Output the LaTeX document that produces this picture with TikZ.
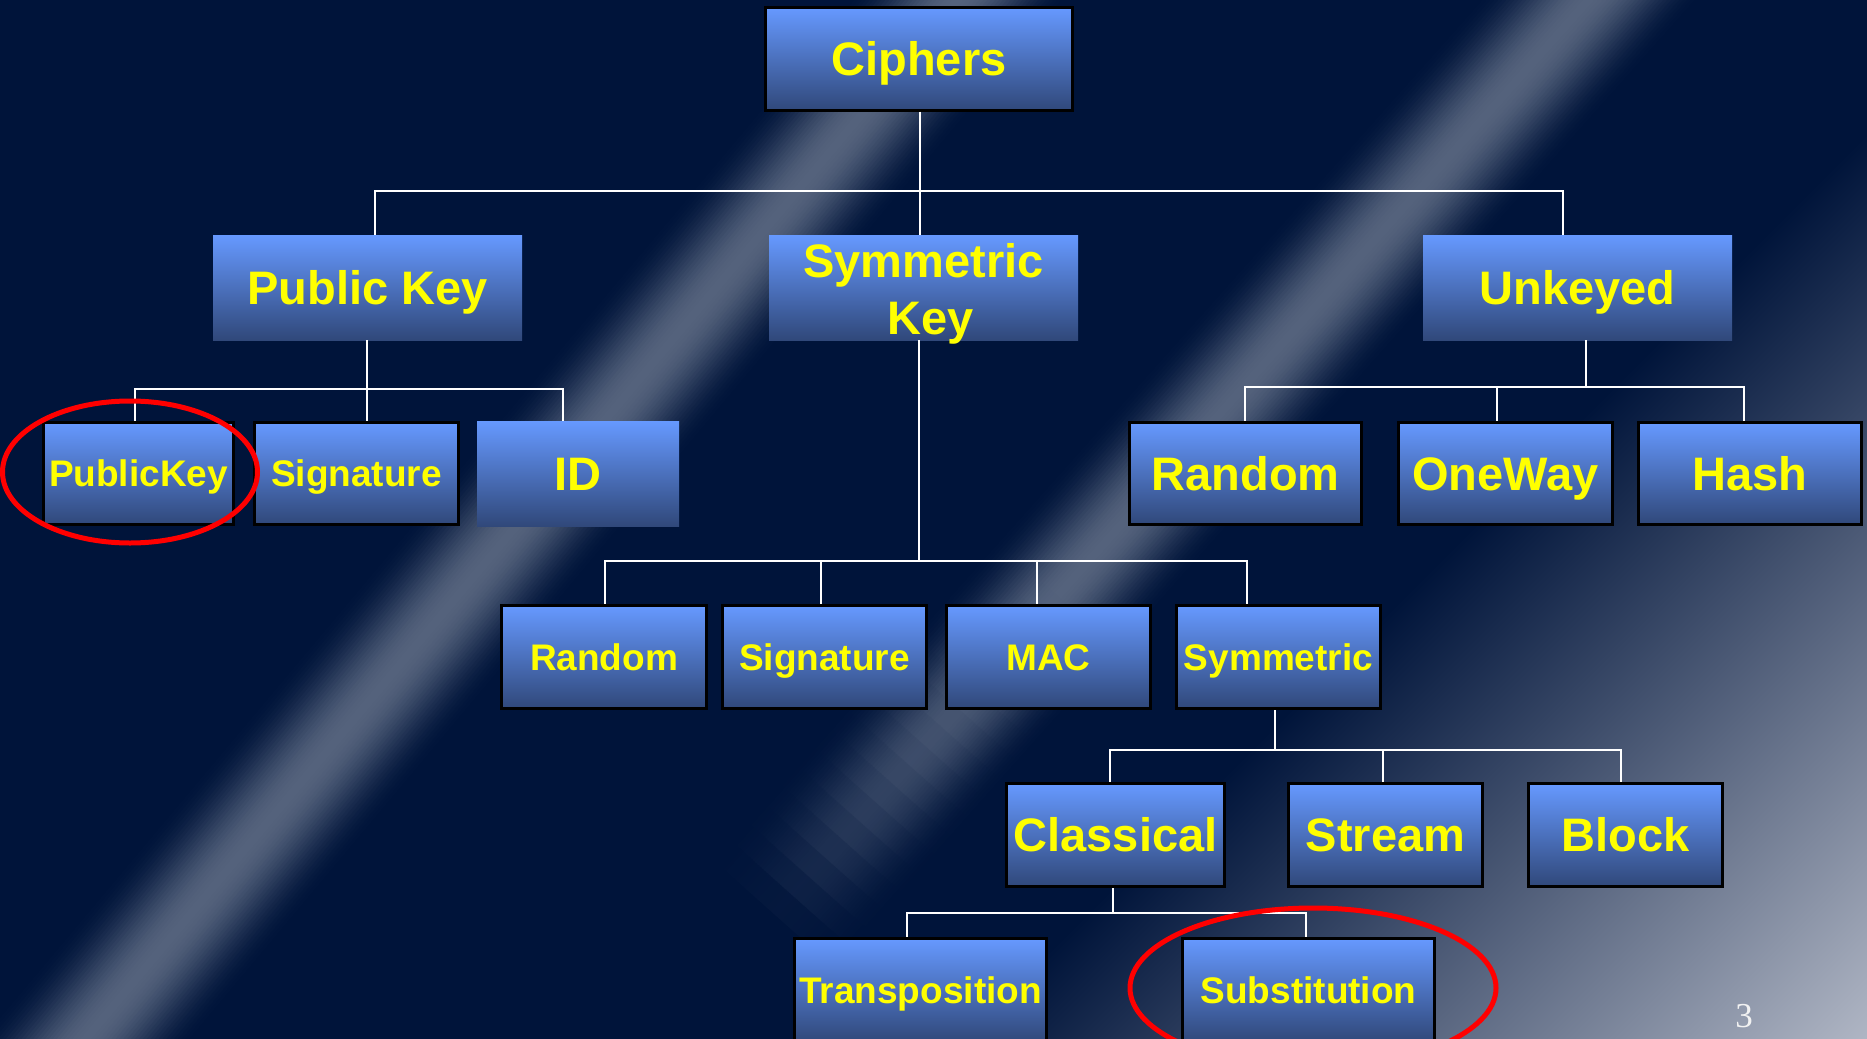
\documentclass[tikz,border=0pt]{standalone}
\usepackage{fontspec}
\setmainfont{Liberation Sans}
\newfontfamily\numfont{Liberation Serif}
\definecolor{bg}{RGB}{0,20,58}
\definecolor{beam}{RGB}{84,98,124}
\definecolor{boxtop}{RGB}{102,153,255}
\definecolor{boxmid}{RGB}{82,122,206}
\definecolor{boxbot}{RGB}{48,72,122}
\definecolor{cornerlight}{RGB}{178,184,198}
\definecolor{cornermid}{RGB}{80,90,116}
\definecolor{txtyellow}{RGB}{255,255,0}
\definecolor{numcol}{RGB}{242,242,242}
\tikzset{
  box/.style={rectangle, inner sep=0pt, top color=boxtop, middle color=boxmid, bottom color=boxbot,
    text=txtyellow, font=\bfseries\fontsize{47}{57}\selectfont, text height=33.7pt, text depth=0pt},
  framed/.style={draw=black, line width=3pt},
  smalltxt/.style={font=\bfseries\fontsize{37}{44}\selectfont, text height=26.5pt, text depth=0pt},
  conn/.style={draw=white, line width=2.5pt},
  ring/.style={draw=red, line width=5pt},
}
\begin{document}
\begin{tikzpicture}[x=1pt, y=-1pt]
\useasboundingbox (0,0) rectangle (1867,1038);
\fill[bg] (-10,-10) rectangle (1877,1048);
\begin{scope}
  \clip (-10,-10) rectangle (1877,1048);
  % light beam 1 (full length)
  \foreach \i in {-27,...,27} {
    \pgfmathsetmacro\p{100*(cos(\i*90/28))^2}
    \fill[beam!\p!bg, shift={(523,519)}, rotate=-40] (\i*3pt-2pt,-950pt) rectangle (\i*3pt+2pt,950pt);
  }
  % light beam 2 (fading towards lower left)
  \foreach \i in {-27,...,27} {
    \pgfmathsetmacro\p{100*(cos(\i*90/28))^2}
    \fill[beam!\p!bg, shift={(1340,280)}, rotate=-41.7] (\i*3pt-2pt,-401pt) rectangle (\i*3pt+2pt,450pt);
    \foreach \j in {1,...,18} {
      \pgfmathsetmacro\q{\p*(1-((\j-0.5)/18)^2)}
      \fill[beam!\q!bg, shift={(1340,280)}, rotate=-41.7] (\i*3pt-2pt,-400pt-\j*25pt) rectangle (\i*3pt+2pt,-399pt-\j*25pt+25pt);
    }
  }
  % light corner
  \begin{scope}[transform canvas={shift={(1500,952)}, rotate=-45}]
    \shade[left color=bg, middle color=cornermid, right color=cornerlight] (-320pt,-1400pt) rectangle (330pt,1400pt);
  \end{scope}
\end{scope}

% level 0 and 1
\node[box, framed, minimum width=307pt, minimum height=103pt] (ciphers) at (919,59) {Ciphers};
\node[box, minimum width=309pt, minimum height=105pt] (pubkey) at (367.5,287.5) {Public Key};
\node[box, minimum width=309pt, minimum height=105pt, align=center, text height=99pt, text depth=6pt] (symkey) at (923.5,287.5) {Symmetric\\\hspace*{15pt}Key};
\node[box, minimum width=309pt, minimum height=105pt] (unkeyed) at (1577.5,287.5) {Unkeyed};

% level 2
\node[box, framed, smalltxt, minimum width=190pt, minimum height=102pt] (publickey) at (138.5,473.5) {PublicKey};
\node[box, framed, smalltxt, minimum width=204pt, minimum height=102pt] (sigA) at (356.5,473.5) {Signature};
\node[box, minimum width=202pt, minimum height=105pt] (id) at (578,473.5) {ID};
\node[box, framed, minimum width=232pt, minimum height=102pt] (randA) at (1245.5,473.5) {Random};
\node[box, framed, minimum width=214pt, minimum height=102pt] (oneway) at (1505.5,473.5) {OneWay};
\node[box, framed, minimum width=223pt, minimum height=102pt] (hash) at (1750,473.5) {Hash};

% level 3
\node[box, framed, smalltxt, minimum width=205pt, minimum height=103pt] (randB) at (604,657) {Random};
\node[box, framed, smalltxt, minimum width=204pt, minimum height=103pt] (sigB) at (824.5,657) {Signature};
\node[box, framed, smalltxt, minimum width=204pt, minimum height=103pt] (mac) at (1048.5,657) {MAC};
\node[box, framed, smalltxt, minimum width=204pt, minimum height=103pt] (symm) at (1278.5,657) {Symmetric};

% level 4
\node[box, framed, minimum width=218pt, minimum height=103pt] (classical) at (1115.5,835) {Classical};
\node[box, framed, minimum width=194pt, minimum height=103pt] (stream) at (1385.5,835) {Stream};
\node[box, framed, minimum width=194pt, minimum height=103pt] (block) at (1625.5,835) {Block};

% level 5
\node[box, framed, smalltxt, minimum width=252pt, minimum height=103pt] (transp) at (920.5,990) {Transposition};
\node[box, framed, smalltxt, minimum width=252pt, minimum height=103pt] (subst) at (1308.5,990) {Substitution};

% connectors
\draw[conn] ([xshift=1pt]ciphers.south) -- ++(0,79) -| ([xshift=7.5pt]pubkey.north);
\draw[conn] ([xshift=1pt]ciphers.south) -- ++(0,79) -| ([xshift=-3.5pt]symkey.north);
\draw[conn] ([xshift=1pt]ciphers.south) -- ++(0,79) -| ([xshift=-14.5pt]unkeyed.north);

\draw[conn] ([xshift=-0.5pt]pubkey.south) -- ++(0,49) -| ([xshift=-3.5pt]publickey.north);
\draw[conn] ([xshift=-0.5pt]pubkey.south) -- ++(0,49) -| ([xshift=10.5pt]sigA.north);
\draw[conn] ([xshift=-0.5pt]pubkey.south) -- ++(0,49) -| ([xshift=-15pt]id.north);

\draw[conn] ([xshift=8.5pt]unkeyed.south) -- ++(0,47) -| ([xshift=-0.5pt]randA.north);
\draw[conn] ([xshift=8.5pt]unkeyed.south) -- ++(0,47) -| ([xshift=-8.5pt]oneway.north);
\draw[conn] ([xshift=8.5pt]unkeyed.south) -- ++(0,47) -| ([xshift=-6pt]hash.north);

\draw[conn] ([xshift=-4.5pt]symkey.south) -- ++(0,221) -| ([xshift=1pt]randB.north);
\draw[conn] ([xshift=-4.5pt]symkey.south) -- ++(0,221) -| ([xshift=-3.5pt]sigB.north);
\draw[conn] ([xshift=-4.5pt]symkey.south) -- ++(0,221) -| ([xshift=-11.5pt]mac.north);
\draw[conn] ([xshift=-4.5pt]symkey.south) -- ++(0,221) -| ([xshift=-31.5pt]symm.north);

\draw[conn] ([xshift=-3.5pt]symm.south) -- ++(0,40) -| ([xshift=-5.5pt]classical.north);
\draw[conn] ([xshift=-3.5pt]symm.south) -- ++(0,40) -| ([xshift=-2.5pt]stream.north);
\draw[conn] ([xshift=-3.5pt]symm.south) -- ++(0,40) -| ([xshift=-4.5pt]block.north);

\draw[conn] ([xshift=-2.5pt]classical.south) -- ++(0,25) -| ([xshift=-13.5pt]transp.north);
\draw[conn] ([xshift=-2.5pt]classical.south) -- ++(0,25) -| ([xshift=-2.5pt]subst.north);

% highlight rings
\draw[ring] (130,472) ellipse [x radius=127.5, y radius=71];
\draw[ring] (1313,988) ellipse [x radius=183, y radius=80];

% page number
\node[text=numcol, font=\numfont\fontsize{35}{40}\selectfont, inner sep=0pt] (pagenum) at (1744,1016) {3};
\end{tikzpicture}
\end{document}
